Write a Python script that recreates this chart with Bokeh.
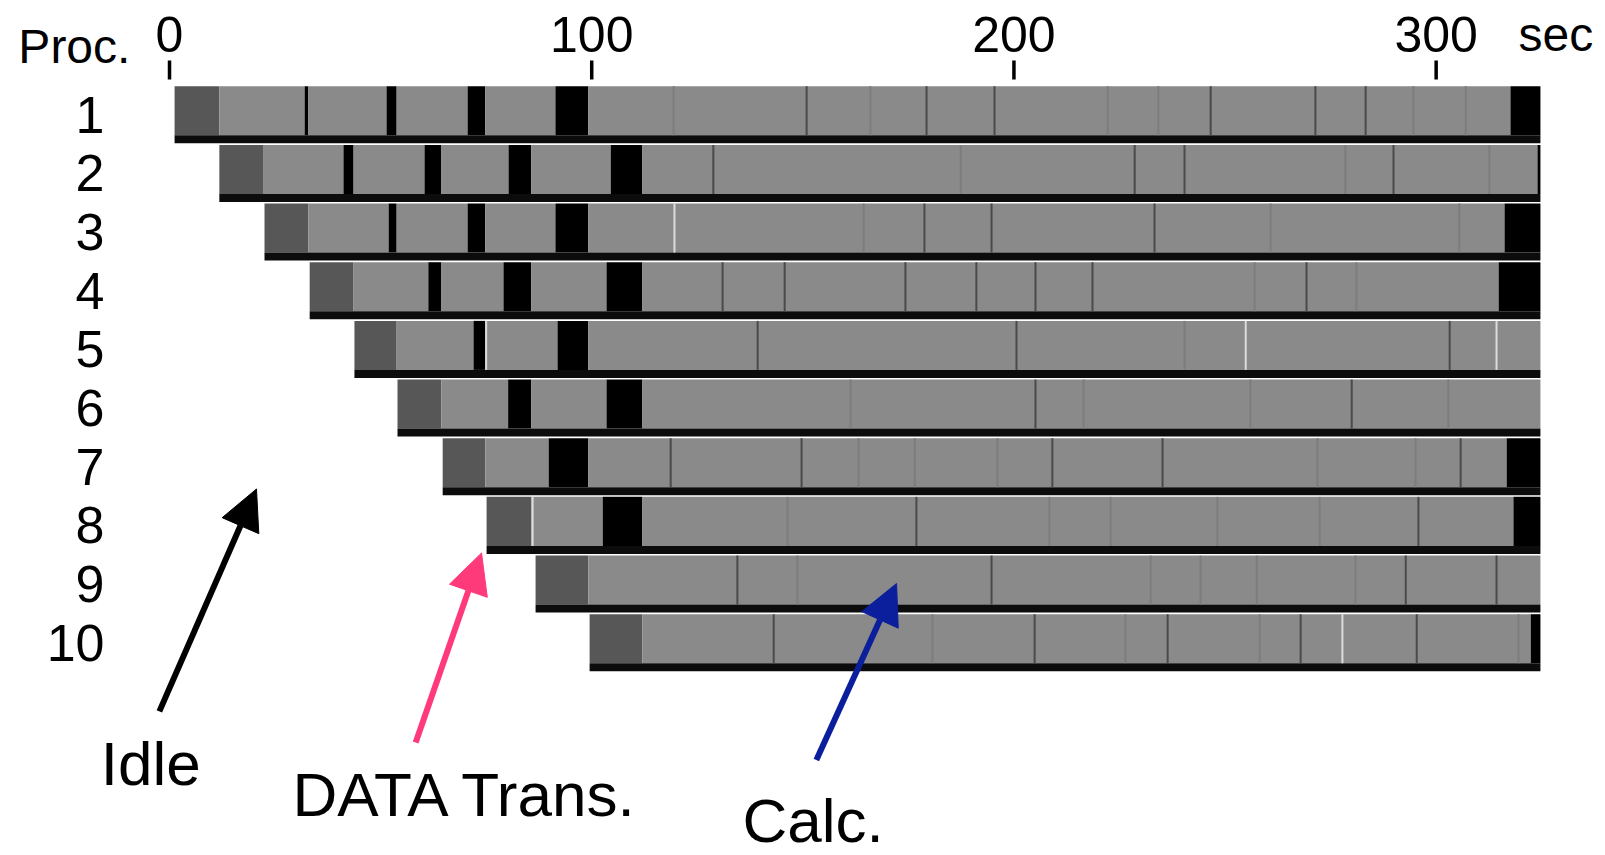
from bokeh.plotting import figure
from bokeh.models import ColumnDataSource, Range1d, Arrow, NormalHead
from bokeh.core.properties import value
from bokeh.embed import file_html
from bokeh.resources import INLINE

# ---------------- data (seconds) ----------------
procs = [1, 2, 3, 4, 5, 6, 7, 8, 9, 10]
proc_labels = ["1", "2", "3", "4", "5", "6", "7", "8", "9", "10"]
x_ticks = [0, 100, 200, 300]
x_tick_labels = ["0", "100", "200", "300"]

# segment edges and kinds: T = data transfer, C = calculation, W = idle/wait
p1_edges = [1.2, 11.8, 32.0, 32.9, 51.4, 53.8, 70.6, 74.8, 91.4, 99.2, 317.6, 324.7]
p1_kinds = ["T", "C", "W", "C", "W", "C", "W", "C", "W", "C", "W"]
p2_edges = [11.8, 22.3, 41.2, 43.6, 60.4, 64.4, 80.3, 85.7, 104.5, 112.0, 324.0, 324.7]
p2_kinds = ["T", "C", "W", "C", "W", "C", "W", "C", "W", "C", "W"]
p3_edges = [22.5, 32.9, 51.9, 53.8, 70.6, 74.8, 91.4, 99.2, 316.2, 324.7]
p3_kinds = ["T", "C", "W", "C", "W", "C", "W", "C", "W"]
p4_edges = [33.2, 43.6, 61.3, 64.4, 79.1, 85.7, 103.5, 112.0, 314.8, 324.7]
p4_kinds = ["T", "C", "W", "C", "W", "C", "W", "C", "W"]
p5_edges = [43.8, 53.8, 72.0, 74.8, 91.9, 99.2, 324.7]
p5_kinds = ["T", "C", "W", "C", "W", "C"]
p6_edges = [54.0, 64.4, 80.2, 85.7, 103.5, 112.0, 324.7]
p6_kinds = ["T", "C", "W", "C", "W", "C"]
p7_edges = [64.7, 74.8, 89.8, 99.2, 316.7, 324.7]
p7_kinds = ["T", "C", "W", "C", "W"]
p8_edges = [75.1, 85.7, 102.6, 112.0, 318.3, 324.7]
p8_kinds = ["T", "C", "W", "C", "W"]
p9_edges = [86.7, 99.2, 324.7]
p9_kinds = ["T", "C"]
p10_edges = [99.5, 112.0, 322.4, 324.7]
p10_kinds = ["T", "C", "W"]

# thin boundary marks inside the calculation phase: d = dark, f = faint, w = light
p1_marks = [119.4, 150.9, 166.0, 179.3, 195.4, 222.2, 234.2, 246.6, 271.4, 283.3, 294.6, 307.0]
p1_mark_kinds = ["f", "d", "f", "d", "d", "f", "f", "d", "d", "d", "f", "f"]
p2_marks = [128.8, 187.4, 228.6, 240.4, 278.5, 289.9, 312.6]
p2_mark_kinds = ["d", "f", "d", "d", "f", "d", "f"]
p3_marks = [119.6, 164.4, 178.8, 194.7, 233.3, 260.8, 305.5]
p3_mark_kinds = ["w", "f", "d", "d", "d", "f", "f"]
p4_marks = [131.0, 145.7, 174.3, 191.1, 205.1, 218.6, 257.0, 269.3, 281.1]
p4_mark_kinds = ["d", "d", "d", "d", "d", "d", "f", "d", "f"]
p5_marks = [75.0, 139.3, 200.6, 240.4, 254.9, 303.2, 314.3]
p5_mark_kinds = ["w", "d", "d", "f", "w", "d", "w"]
p6_marks = [161.3, 205.1, 216.5, 256.0, 280.0, 302.9]
p6_mark_kinds = ["f", "d", "f", "f", "d", "f"]
p7_marks = [118.7, 149.7, 163.2, 176.5, 196.1, 209.1, 235.2, 271.9, 295.1, 305.8]
p7_mark_kinds = ["d", "d", "f", "f", "f", "d", "d", "f", "f", "d"]
p8_marks = [86.0, 146.4, 176.9, 208.4, 222.9, 248.2, 272.4, 295.8]
p8_mark_kinds = ["w", "f", "d", "f", "f", "f", "f", "d"]
p9_marks = [134.5, 148.7, 194.7, 232.4, 244.2, 257.5, 280.9, 292.8, 314.3]
p9_mark_kinds = ["d", "f", "d", "f", "f", "f", "f", "d", "d"]
p10_marks = [143.1, 180.7, 204.9, 226.4, 236.4, 258.2, 267.9, 277.8, 295.4, 319.5]
p10_mark_kinds = ["d", "f", "d", "f", "d", "f", "d", "w", "d", "f"]

note_texts = ["Idle", "DATA Trans.", "Calc."]

# ---------------- styling ----------------
FONT = value("Liberation Sans")
KIND_COLOR = {"T": "#575757", "C": "#8a8a8a", "W": "#000000"}
MARK_COLOR = {"d": "#4a4a4a", "f": "#7d7d7d", "w": "#dcdcdc"}
HALF = 0.486      # half bar thickness (rows units)
STRIP = 0.136     # black strip at bottom of each bar

edges_all = [p1_edges, p2_edges, p3_edges, p4_edges, p5_edges,
             p6_edges, p7_edges, p8_edges, p9_edges, p10_edges]
kinds_all = [p1_kinds, p2_kinds, p3_kinds, p4_kinds, p5_kinds,
             p6_kinds, p7_kinds, p8_kinds, p9_kinds, p10_kinds]
marks_all = [p1_marks, p2_marks, p3_marks, p4_marks, p5_marks,
             p6_marks, p7_marks, p8_marks, p9_marks, p10_marks]
mkinds_all = [p1_mark_kinds, p2_mark_kinds, p3_mark_kinds, p4_mark_kinds, p5_mark_kinds,
              p6_mark_kinds, p7_mark_kinds, p8_mark_kinds, p9_mark_kinds, p10_mark_kinds]

seg = dict(left=[], right=[], y=[], color=[])
strip = dict(left=[], right=[], y=[])
for pr, e, k in zip(procs, edges_all, kinds_all):
    for i, kind in enumerate(k):
        seg["left"].append(e[i])
        seg["right"].append(e[i + 1])
        seg["y"].append(pr - STRIP / 2)
        seg["color"].append(KIND_COLOR[kind])
    strip["left"].append(e[0])
    strip["right"].append(e[-1])
    strip["y"].append(pr + HALF - STRIP / 2)

mk = dict(x=[], y0=[], y1=[], color=[])
for pr, m, mkd in zip(procs, marks_all, mkinds_all):
    for xv, kd in zip(m, mkd):
        mk["x"].append(xv)
        mk["y0"].append(pr - HALF)
        mk["y1"].append(pr + HALF - STRIP)
        mk["color"].append(MARK_COLOR[kd])

p = figure(width=1605, height=855,
           x_range=Range1d(-40.03, 340.11), y_range=Range1d(13.627, -0.947),
           x_axis_location=None, y_axis_location=None,
           min_border=0, toolbar_location=None, output_backend="svg")
p.grid.visible = False
p.outline_line_color = None
p.background_fill_color = "white"
p.border_fill_color = "white"

p.hbar(y="y", left="left", right="right", height=2 * HALF - STRIP,
       fill_color="color", line_color=None, source=ColumnDataSource(seg))
p.hbar(y="y", left="left", right="right", height=STRIP,
       fill_color="#0c0c0c", line_color=None, source=ColumnDataSource(strip))
p.segment(x0="x", x1="x", y0="y0", y1="y1", line_color="color", line_width=2,
          source=ColumnDataSource(mk))

# top scale: tick marks + labels
p.segment(x0=x_ticks, x1=x_ticks, y0=[0.076] * len(x_ticks), y1=[0.400] * len(x_ticks),
          line_color="black", line_width=3.5)
p.text(x=x_ticks, y=[-0.367] * len(x_ticks), text=x_tick_labels, text_font=FONT,
       text_font_size="50px", text_align="center", text_baseline="middle",
       text_color="black")
p.text(x=[319.5], y=[-0.367], text=["sec"], text_font=FONT, text_font_size="48px",
       text_align="left", text_baseline="middle", text_color="black")
p.text(x=[-35.8], y=[-0.171], text=["Proc."], text_font=FONT, text_font_size="48px",
       text_align="left", text_baseline="middle", text_color="black")

# process labels
p.text(x=[-15.4] * len(procs), y=procs, text=proc_labels, text_font=FONT,
       text_font_size="52px", text_align="right", text_baseline="middle",
       text_color="black")

# annotation arrows
arrow_colors = ["black", "#ff3a7a", "#0b1f9c"]
arrow_start_x = [-2.4, 58.3, 153.2]
arrow_start_y = [11.17, 11.70, 12.00]
arrow_end_x = [20.6, 73.9, 172.2]
arrow_end_y = [7.38, 8.47, 8.99]
for c, xs, ys, xe, ye in zip(arrow_colors, arrow_start_x, arrow_start_y, arrow_end_x, arrow_end_y):
    p.add_layout(Arrow(x_start=xs, y_start=ys, x_end=xe, y_end=ye,
                       line_color=c, line_width=6,
                       end=NormalHead(size=40, fill_color=c, line_color=c)))

p.text(x=[-16.3, 29.1, 135.7], y=[12.06, 12.59, 13.03], text=note_texts, text_font=FONT,
       text_font_size="62px", text_align="left", text_baseline="middle",
       text_color="black")

open("out.html", "w").write(file_html(p, INLINE))
